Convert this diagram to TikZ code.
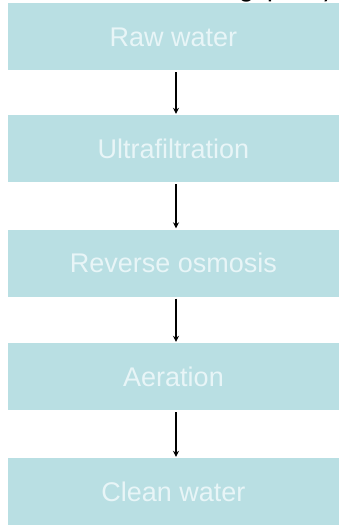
\documentclass[tikz,border=0pt]{standalone}
\usepackage{fontspec}
\setmainfont{Liberation Sans}
\newfontfamily\carlitofont{Carlito}
\usetikzlibrary{arrows.meta}
\definecolor{boxfill}{RGB}{185,223,227}
\definecolor{boxtext}{RGB}{232,245,247}
\tikzset{
  stage/.style={rectangle, fill=boxfill, draw=none, minimum width=331pt, minimum height=67pt,
    inner sep=0pt, text=boxtext, font=\fontsize{27}{27}\selectfont, text height=19pt, text depth=0pt},
  flowarrow/.style={draw=black, line width=1.3pt, -{Stealth[length=6pt,width=6pt]}}
}
\begin{document}
\begin{tikzpicture}[x=1pt,y=1pt]
\useasboundingbox (0,0) rectangle (339,-525);
\fill[white] (0,0) rectangle (339,-525);
\clip (0,0) rectangle (339,-525);
\node[anchor=base east, inner sep=0pt, font=\fontsize{27}{27}\carlitofont, text=black] (title) at (334,2.5) {g quality};
\node[stage] (b1) at (173.5,-36.5) {Raw water};
\node[stage] (b2) at (173.5,-148.5) {Ultrafiltration};
\node[stage] (b3) at (173.5,-263) {Reverse osmosis};
\node[stage] (b4) at (173.5,-376.5) {Aeration};
\node[stage] (b5) at (173.5,-491.5) {Clean water};
\draw[flowarrow] ([xshift=2.5pt,yshift=-2pt]b1.south) -- ([xshift=2.5pt,yshift=1pt]b2.north);
\draw[flowarrow] ([xshift=2.5pt,yshift=-2pt]b2.south) -- ([xshift=2.5pt,yshift=1pt]b3.north);
\draw[flowarrow] ([xshift=2.5pt,yshift=-2pt]b3.south) -- ([xshift=2.5pt,yshift=1pt]b4.north);
\draw[flowarrow] ([xshift=2.5pt,yshift=-2pt]b4.south) -- ([xshift=2.5pt,yshift=1pt]b5.north);
\end{tikzpicture}
\end{document}
